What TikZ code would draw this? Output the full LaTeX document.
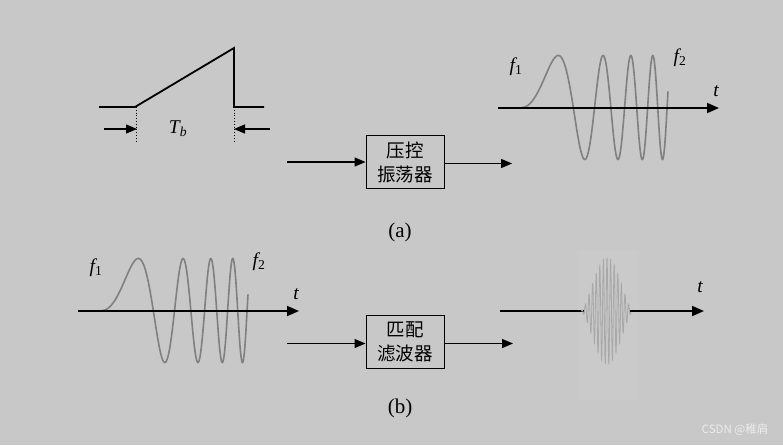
\documentclass[tikz,border=0pt]{standalone}
\usepackage{fontspec}
\setmainfont{Liberation Serif}
\newfontfamily\cjk{Noto Sans CJK SC}
\usetikzlibrary{arrows.meta}
\definecolor{bg}{RGB}{200,200,200}
\definecolor{bgl}{RGB}{202,202,202}
\definecolor{wave}{RGB}{128,128,128}
\definecolor{pulse}{RGB}{168,168,168}
\definecolor{wm}{RGB}{236,236,236}
\begin{document}
\begin{tikzpicture}[x=1pt,y=-1pt,
  arr/.style={line width=1.3pt,-{Triangle[length=11pt,width=9pt]}},
  axis/.style={line width=1.8pt,-{Triangle[length=12pt,width=10pt]}},
  sig/.style={line width=1.8pt},
  chirp/.style={wave,line width=1.6pt},
  blk/.style={draw,line width=1pt,minimum width=78pt,minimum height=53pt,align=center,inner sep=0pt,
    font=\cjk\fontsize{18.5}{24}\selectfont},
  lab/.style={font=\fontsize{19.5}{22}\selectfont,inner sep=0pt},
  captxt/.style={font=\fontsize{21}{24}\selectfont,inner sep=0pt}]
\useasboundingbox (0,0) rectangle (783,445);
\fill[bg] (0,0) rectangle (783,445);
\fill[bgl] (577,250) rectangle (639,400);

% ---- (a) row ----
\coordinate (p0) at (99,107);
\coordinate (p1) at (135,107);
\coordinate (p2) at (234,48);
\coordinate (p3) at (234,107);
\coordinate (p4) at (264,107);
\draw[sig] (p0) -- (p1) -- (p2) -- (p3) -- (p4);
\coordinate (d1a) at (136,107); \coordinate (d1b) at (136,141);
\coordinate (d2a) at (234,107); \coordinate (d2b) at (234,141);
\draw[dotted,line width=0.8pt] (d1a) -- (d1b);
\draw[dotted,line width=0.8pt] (d2a) -- (d2b);
\coordinate (la) at (104,129); \coordinate (lb) at (137,129);
\coordinate (ra) at (270,129); \coordinate (rb) at (234,129);
\draw[arr] (la) -- (lb);
\draw[arr] (ra) -- (rb);
\node[lab] (Tb) at (178,129) {\itshape T\textsubscript{b}};

\node[blk] (vco) at (405,162.3) {压控\\振荡器};
\coordinate (vin) at (287,162);
\coordinate (vout) at (512,163.5);
\draw[arr] (vin) -- (vco.west |- vin);
\draw[arr] (vco.east |- vout) -- (vout);

\coordinate (ax1a) at (498,108);
\coordinate (ax1b) at (719,108);
\draw[chirp] plot[domain=0:146,samples=400] ({522+\x},{107.5-52*sin(0.0684*\x*\x)});
\draw[axis] (ax1a) -- (ax1b);
\node[lab] (f1a) at (516,67) {\itshape f\textsubscript{\upshape 1}};
\node[lab] (f2a) at (680,58) {\itshape f\textsubscript{\upshape 2}};
\node[lab] (ta) at (716,91) {\itshape t};
\node[captxt] (capa) at (400,232) {(a)};

% ---- (b) row ----
\coordinate (ax2a) at (78,311);
\coordinate (ax2b) at (299,311);
\draw[chirp] plot[domain=0:146,samples=400] ({102+\x},{310.5-52*sin(0.0684*\x*\x)});
\draw[axis] (ax2a) -- (ax2b);
\node[lab] (f1b) at (96,268) {\itshape f\textsubscript{\upshape 1}};
\node[lab] (f2b) at (259,262) {\itshape f\textsubscript{\upshape 2}};
\node[lab] (tb) at (296,294) {\itshape t};

\node[blk] (mf) at (405,342.3) {匹配\\滤波器};
\coordinate (min) at (287,343.5);
\coordinate (mout) at (513,343.5);
\draw[arr] (min) -- (mf.west |- min);
\draw[arr] (mf.east |- mout) -- (mout);

\coordinate (o1) at (500,311);
\coordinate (o2) at (584,311);
\coordinate (o3) at (630,311);
\coordinate (o4) at (704,311);
\draw[sig] (o1) -- (o2);
\draw[pulse,line width=0.8pt] plot[domain=-25.9:25.9,samples=900]
  ({607+\x},{311-53*cos(90*\x/26)*sqrt(abs(cos(90*\x/26)))*cos(360*\x/3.6)});
\draw[axis] (o3) -- (o4);
\node[lab] (tc) at (700,287) {\itshape t};
\node[captxt] (capb) at (400,408) {(b)};

\node[font=\cjk\fontsize{11.5}{13}\selectfont,text=wm,inner sep=0pt] (wmk) at (735,430) {CSDN @稚肩};
\end{tikzpicture}
\end{document}
